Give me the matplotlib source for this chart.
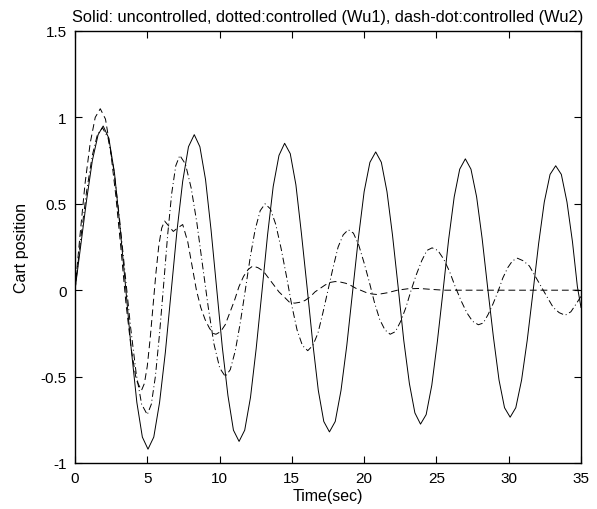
import numpy as np
import matplotlib
matplotlib.use("Agg")
import matplotlib.pyplot as plt
from matplotlib.ticker import MultipleLocator

# values (time in sec, cart position)
t_unc = [0, 0.4, 0.8, 1.2, 1.6, 1.95,
         2.34, 2.73, 3.11, 3.50, 3.89, 4.28, 4.66, 5.05,
         5.45, 5.85, 6.25, 6.65, 7.05, 7.45, 7.85, 8.25,
         8.64, 9.03, 9.41, 9.80, 10.19, 10.58, 10.96, 11.35,
         11.74, 12.14, 12.53, 12.93, 13.32, 13.71, 14.11, 14.5,
         14.89, 15.28, 15.66, 16.05, 16.44, 16.83, 17.21, 17.6,
         18.0, 18.4, 18.8, 19.2, 19.6, 20.0, 20.4, 20.8,
         21.19, 21.58, 21.96, 22.35, 22.74, 23.13, 23.51, 23.9,
         24.29, 24.68, 25.06, 25.45, 25.84, 26.23, 26.61, 27.0,
         27.39, 27.78, 28.16, 28.55, 28.94, 29.33, 29.71, 30.1,
         30.49, 30.89, 31.28, 31.68, 32.07, 32.46, 32.86, 33.25,
         33.64, 34.03, 34.41, 34.75, 35.0]
x_unc = [0, 0.26, 0.52, 0.75, 0.90, 0.95,
         0.88, 0.68, 0.37, 0.02, -0.34, -0.65, -0.85, -0.92,
         -0.85, -0.65, -0.36, -0.01, 0.34, 0.63, 0.83, 0.90,
         0.83, 0.64, 0.35, 0.01, -0.33, -0.61, -0.81, -0.875,
         -0.81, -0.62, -0.34, -0.01, 0.32, 0.60, 0.78, 0.85,
         0.79, 0.61, 0.33, 0.02, -0.30, -0.58, -0.76, -0.82,
         -0.76, -0.58, -0.32, -0.01, 0.30, 0.57, 0.74, 0.80,
         0.74, 0.57, 0.32, 0.02, -0.29, -0.54, -0.71, -0.775,
         -0.72, -0.55, -0.30, -0.01, 0.29, 0.54, 0.70, 0.76,
         0.70, 0.54, 0.30, 0.01, -0.27, -0.52, -0.68, -0.735,
         -0.68, -0.52, -0.29, -0.01, 0.27, 0.51, 0.67, 0.72,
         0.67, 0.51, 0.28, 0.02, -0.10]

t_wu1 = [0, 0.35, 0.7, 1.05, 1.4, 1.75,
         2.11, 2.46, 2.82, 3.18, 3.53, 3.89, 4.24, 4.6,
         4.8, 5.0, 5.2, 5.4, 5.6, 5.8, 6.0, 6.2,
         6.5, 6.8, 7.1, 7.45, 7.8, 8.1, 8.4, 8.7, 9.0, 9.3, 9.55, 9.75,
         10.07, 10.39, 10.71, 11.03, 11.34, 11.66, 11.98, 12.3,
         12.66, 13.03, 13.39, 13.75, 14.11, 14.48, 14.84, 15.2,
         15.55, 15.9, 16.25, 16.6, 16.95, 17.3, 17.65, 18.0,
         18.36, 18.73, 19.09, 19.45, 19.81, 20.18, 20.54, 20.9,
         21.6, 22.3, 23.0, 23.8, 24.6, 25.5, 35.0]
x_wu1 = [0, 0.32, 0.62, 0.85, 1.00, 1.05,
         0.99, 0.81, 0.55, 0.24, -0.08, -0.34, -0.52, -0.58,
         -0.54, -0.44, -0.28, -0.09, 0.10, 0.26, 0.36, 0.40,
         0.37, 0.34, 0.36, 0.38, 0.28, 0.14, 0.0, -0.10, -0.17, -0.22, -0.25, -0.255,
         -0.24, -0.20, -0.13, -0.06, 0.02, 0.08, 0.12, 0.14,
         0.13, 0.11, 0.07, 0.03, -0.01, -0.04, -0.07, -0.075,
         -0.07, -0.06, -0.04, -0.01, 0.01, 0.03, 0.045, 0.05,
         0.047, 0.04, 0.027, 0.01, -0.002, -0.015, -0.022, -0.025,
         -0.015, 0.0, 0.008, 0.01, 0.005, 0.0, 0.0]

t_wu2 = [0, 0.4, 0.8, 1.2, 1.55, 1.9,
         2.29, 2.68, 3.06, 3.45, 3.84, 4.23, 4.61, 5.0,
         5.28, 5.56, 5.84, 6.13, 6.41, 6.69, 6.97, 7.25,
         7.64, 8.04, 8.43, 8.83, 9.22, 9.61, 10.01, 10.4,
         10.74, 11.09, 11.43, 11.78, 12.12, 12.46, 12.81, 13.15,
         13.52, 13.89, 14.26, 14.63, 15.0, 15.36, 15.73, 16.1,
         16.45, 16.8, 17.15, 17.5, 17.85, 18.2, 18.55, 18.9,
         19.26, 19.63, 19.99, 20.35, 20.71, 21.08, 21.44, 21.8,
         22.16, 22.53, 22.89, 23.25, 23.61, 23.98, 24.34, 24.7,
         25.1, 25.5, 25.9, 26.3, 26.7, 27.1, 27.5, 27.9,
         28.24, 28.58, 28.91, 29.25, 29.59, 29.93, 30.26, 30.6,
         31.01, 31.43, 31.84, 32.25, 32.66, 33.08, 33.49, 33.9,
         34.3, 34.7, 35.0]
x_wu2 = [0, 0.30, 0.57, 0.78, 0.90, 0.94,
         0.88, 0.70, 0.43, 0.11, -0.21, -0.48, -0.66, -0.72,
         -0.66, -0.50, -0.26, 0.03, 0.32, 0.56, 0.72, 0.78,
         0.73, 0.59, 0.39, 0.14, -0.10, -0.31, -0.45, -0.50,
         -0.46, -0.35, -0.19, 0.0, 0.19, 0.35, 0.46, 0.50,
         0.47, 0.38, 0.24, 0.08, -0.09, -0.23, -0.32, -0.35,
         -0.32, -0.25, -0.13, 0.0, 0.13, 0.25, 0.32, 0.35,
         0.33, 0.26, 0.16, 0.05, -0.07, -0.17, -0.23, -0.255,
         -0.24, -0.18, -0.10, 0.0, 0.09, 0.17, 0.23, 0.245,
         0.23, 0.18, 0.11, 0.02, -0.06, -0.13, -0.18, -0.20,
         -0.19, -0.14, -0.08, -0.01, 0.07, 0.13, 0.17, 0.185,
         0.17, 0.14, 0.08, 0.02, -0.04, -0.10, -0.13, -0.145,
         -0.125, -0.075, -0.035]

plt.rcParams['font.family'] = ['Liberation Sans', 'DejaVu Sans']
plt.rcParams['font.size'] = 11

fig = plt.figure(figsize=(5.97, 5.10), dpi=100)
ax = fig.add_axes([0.1256, 0.0902, 0.8476, 0.8471])

ax.plot(t_unc, x_unc, color='black', lw=0.7, linestyle='-')
ax.plot(t_wu1, x_wu1, color='black', lw=0.7, linestyle=(0, (7, 4)))
ax.plot(t_wu2, x_wu2, color='black', lw=0.7, linestyle=(0, (7, 3, 1, 3)))

ax.set_xlim(0, 35)
ax.set_ylim(-1, 1.5)
ax.xaxis.set_major_locator(MultipleLocator(5))
ax.set_yticks([-1, -0.5, 0, 0.5, 1, 1.5])
ax.set_yticklabels(['-1', '-0.5', '0', '0.5', '1', '1.5'])
ax.tick_params(direction='in', top=True, right=True, length=5, width=0.8, pad=6,
               labelsize=11)
for s in ax.spines.values():
    s.set_linewidth(1.0)

ax.set_xlabel('Time(sec)', fontsize=11.5, labelpad=2)
ax.set_ylabel('Cart position', fontsize=11.5, labelpad=8)
ax.set_title('Solid: uncontrolled, dotted:controlled (Wu1), dash-dot:controlled (Wu2)',
             fontsize=11.8, pad=7)

fig.savefig('out.png', dpi=100)
